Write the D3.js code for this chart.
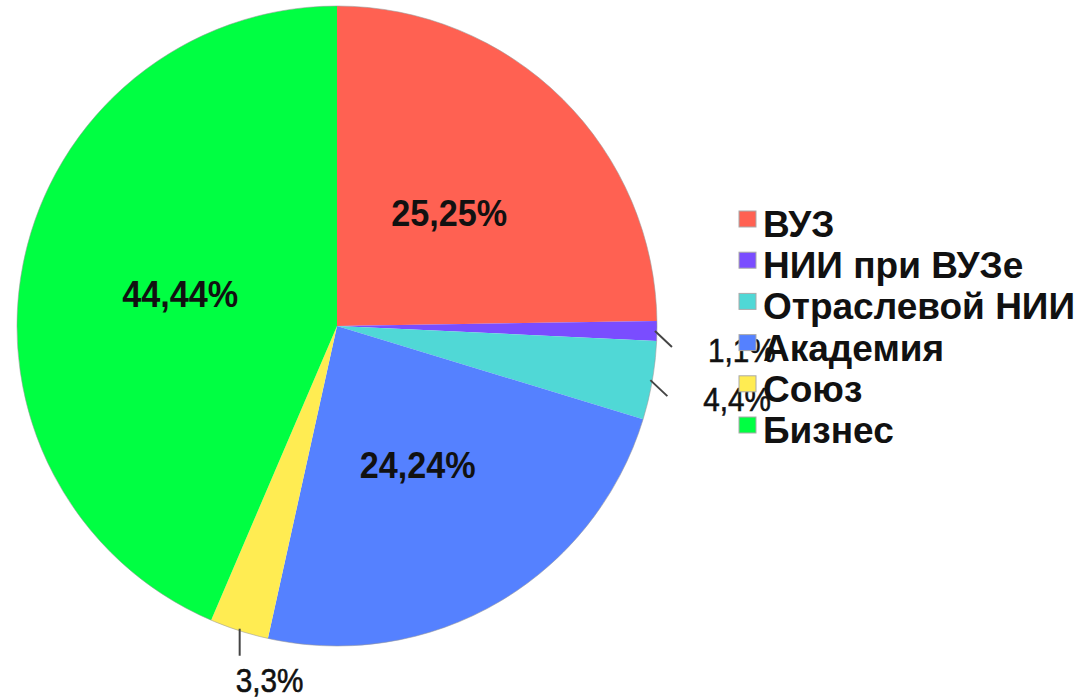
<!DOCTYPE html>
<html>
<head>
<meta charset="utf-8">
<script src="https://cdn.jsdelivr.net/npm/d3@7"></script>
<style>
  body { margin: 0; background: #fff; }
  text { font-family: "Liberation Sans", Arial, sans-serif; }
</style>
</head>
<body>
<div id="chart"></div>
<script>
var categories = ["ВУЗ", "НИИ при ВУЗе", "Отраслевой НИИ", "Академия", "Союз", "Бизнес"];
var shares = [25.25, 1.01, 4.04, 24.24, 3.03, 44.44];
var shareLabels = ["25,25%", "1,1%", "4,4%", "24,24%", "3,3%", "44,44%"];
var colors = ["#FF6152", "#7A4DFF", "#50D8D6", "#5581FF", "#FFEC52", "#00FF42"];

var svgWidth = 1082;
var svgHeight = 698;
var cx = 337, cy = 326, radius = 320;

var svg = d3.select("#chart")
  .append("svg")
  .attr("width", svgWidth)
  .attr("height", svgHeight);

var data = categories.map(function(c, i) {
  return { name: c, value: shares[i], label: shareLabels[i], color: colors[i] };
});

var pie = d3.pie().sort(null).value(d => d.value);
var arcs = pie(data);

var arc = d3.arc().innerRadius(0).outerRadius(radius);

var pieGroup = svg.append("g")
  .attr("transform", `translate(${cx}, ${cy})`);

pieGroup.selectAll("path")
  .data(arcs)
  .enter()
  .append("path")
  .attr("d", arc)
  .attr("fill", d => d.data.color);

pieGroup.append("circle")
  .attr("r", radius)
  .attr("fill", "none")
  .attr("stroke", "#999")
  .attr("stroke-width", 0.8)
  .attr("stroke-opacity", 0.7);

// labels inside the big slices
var big = arcs.filter(d => d.data.value >= 10);
pieGroup.selectAll(".inlabel")
  .data(big)
  .enter()
  .append("text")
  .attr("class", "inlabel")
  .attr("transform", function(d) {
    var a = (d.startAngle + d.endAngle) / 2;
    return `translate(${Math.sin(a) * 160}, ${-Math.cos(a) * 160}) scale(0.95, 1.05)`;
  })
  .attr("text-anchor", "middle")
  .attr("dy", "0.36em")
  .attr("font-size", 36)
  .attr("font-weight", "bold")
  .attr("fill", "#111")
  .text(d => d.data.label);

// small slices: leader line + outside label
var small = arcs.filter(d => d.data.value < 10);
small.forEach(function(d) {
  var a = (d.startAngle + d.endAngle) / 2;
  var px = Math.sin(a) * (radius - 2);
  var py = -Math.cos(a) * (radius - 2);
  var x2, y2, tx, ty;
  if (a < Math.PI) {
    x2 = px + 17; y2 = py + 16; tx = px + 53; ty = py + 31;
  } else {
    x2 = px; y2 = py + 27; tx = px - 4; ty = py + 63;
  }
  pieGroup.append("line")
    .attr("x1", px).attr("y1", py)
    .attr("x2", x2).attr("y2", y2)
    .attr("stroke", "#444")
    .attr("stroke-width", 2);
  pieGroup.append("text")
    .attr("transform", `translate(${tx}, ${ty}) scale(0.9, 1)`)
    .attr("font-size", 33)
    .attr("fill", "#111")
    .attr("stroke", "#111")
    .attr("stroke-width", 0.6)
    .text(d.data.label);
});

// legend
var legend = svg.append("g")
  .attr("transform", "translate(739, 237)");

var rows = legend.selectAll(".row")
  .data(data)
  .enter()
  .append("g")
  .attr("class", "row")
  .attr("transform", (d, i) => `translate(0, ${i * 41.2})`);

rows.append("rect")
  .attr("x", 0)
  .attr("y", -26)
  .attr("width", 17)
  .attr("height", 16)
  .attr("fill", d => d.color)
  .attr("stroke", "#aaa")
  .attr("stroke-width", 1);

rows.append("text")
  .attr("x", 24)
  .attr("y", 0)
  .attr("font-size", 37)
  .attr("font-weight", "bold")
  .attr("fill", "#111")
  .text(d => d.name);
</script>
</body>
</html>
